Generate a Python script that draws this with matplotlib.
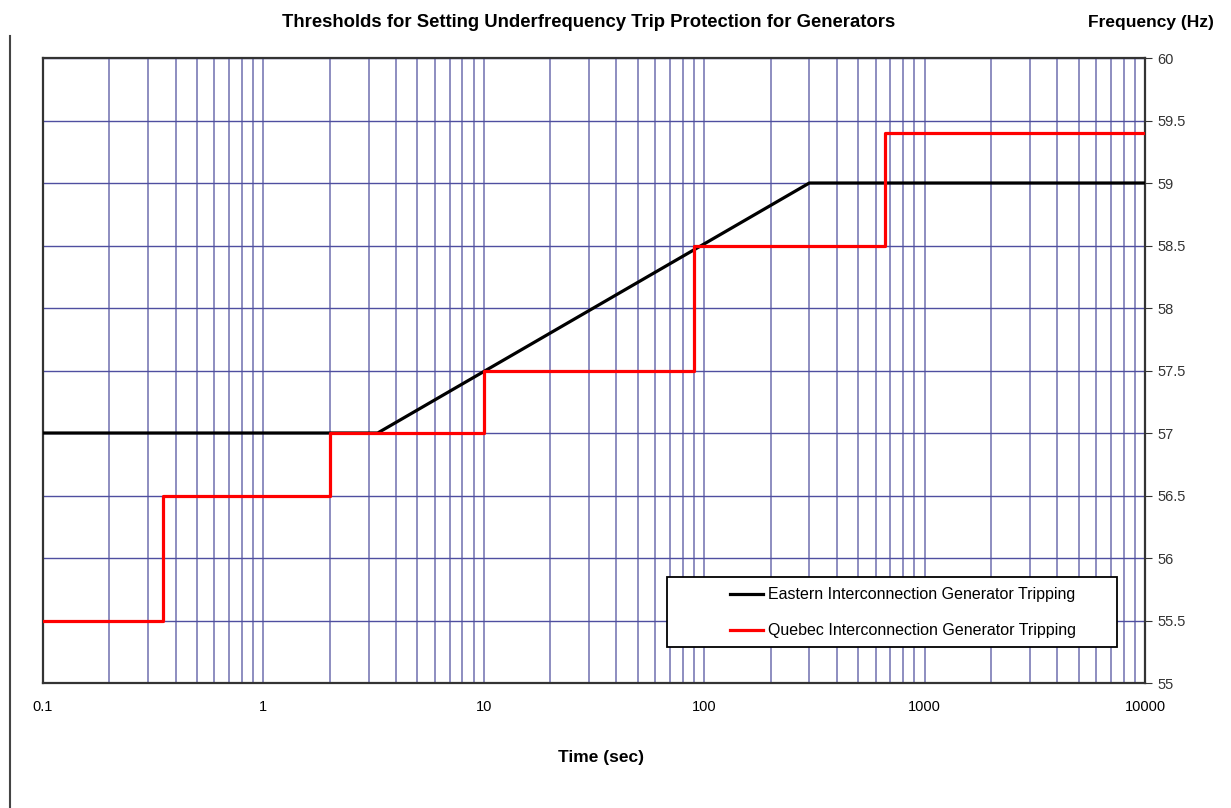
import matplotlib.pyplot as plt
from matplotlib.lines import Line2D
from matplotlib.patches import Rectangle
from matplotlib.ticker import LogLocator, FixedLocator, NullFormatter

plt.rcParams['font.family'] = ['Liberation Sans', 'DejaVu Sans']

# Eastern Interconnection curve (time in s, frequency in Hz)
eastern_t = [0.1, 3.3, 300, 10000]
eastern_f = [57.0, 57.0, 59.0, 59.0]

# Quebec Interconnection steps
quebec_t = [0.1, 0.35, 2, 10, 90, 660, 10000]
quebec_f = [55.5, 56.5, 57.0, 57.5, 58.5, 59.4, 59.4]

x_ticks = [0.1, 1, 10, 100, 1000, 10000]
x_labels = ['0.1', '1', '10', '100', '1000', '10000']
y_ticks = [55, 55.5, 56, 56.5, 57, 57.5, 58, 58.5, 59, 59.5, 60]
y_labels = ['55', '55.5', '56', '56.5', '57', '57.5', '58', '58.5', '59', '59.5', '60']

fig = plt.figure(figsize=(12.31, 8.08), dpi=100)
ax = fig.add_axes([0.0349, 0.1547, 0.8952, 0.7735])

ax.set_xscale('log')
ax.set_xlim(0.1, 10000)
ax.set_ylim(55, 60)
ax.xaxis.set_major_locator(FixedLocator(x_ticks))
ax.set_xticklabels(x_labels)
ax.xaxis.set_minor_locator(LogLocator(base=10, subs=range(2, 10)))
ax.xaxis.set_minor_formatter(NullFormatter())
ax.set_yticks(y_ticks)
ax.set_yticklabels(y_labels)
ax.yaxis.tick_right()
# vertical grid: lighter, horizontal grid: darker navy
ax.grid(True, which='both', axis='x', color='#8585bb', linewidth=1.3)
ax.grid(True, which='major', axis='y', color='#4f4fa0', linewidth=1.0)
ax.tick_params(axis='x', which='both', length=0, labelsize=10.5, pad=12)
ax.tick_params(axis='y', length=5, direction='out', labelsize=10.5, pad=4,
               colors='#333333')
for s in ax.spines.values():
    s.set_color('#333333')
    s.set_linewidth(1.6)

ax.plot(eastern_t, eastern_f, color='black', linewidth=2.3,
        label='Eastern Interconnection Generator Tripping', zorder=3)
ax.step(quebec_t, quebec_f, where='post', color='red', linewidth=2.3,
        label='Quebec Interconnection Generator Tripping', zorder=4)

# legend frame drawn separately (wide left padding like the original)
box = Rectangle((0.566, 0.0576), 0.4086, 0.112, transform=ax.transAxes,
                facecolor='white', edgecolor='black', linewidth=1.3, zorder=5)
ax.add_patch(box)
leg = ax.legend(loc='upper left', bbox_to_anchor=(0.623, 0.153), fontsize=11.5,
                frameon=False, labelspacing=1.3, handlelength=2.1,
                borderaxespad=0, borderpad=0, handletextpad=0.3)
leg.set_zorder(6)

fig.text(0.4785, 0.972, 'Thresholds for Setting Underfrequency Trip Protection for Generators',
         ha='center', va='center', fontsize=13.3, fontweight='bold')
fig.text(0.935, 0.972, 'Frequency (Hz)', ha='center', va='center',
         fontsize=12.5, fontweight='bold')
fig.text(0.488, 0.063, 'Time (sec)', ha='center', va='center',
         fontsize=12.5, fontweight='bold')

# page margin line at left edge
fig.add_artist(Line2D([0.0085, 0.0085], [0.0, 0.955], color='#444444', linewidth=1.5))

plt.savefig('out.png', dpi=100)
